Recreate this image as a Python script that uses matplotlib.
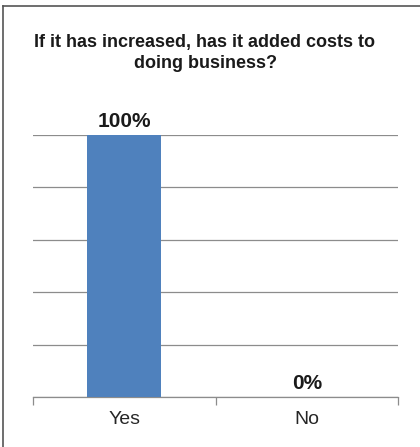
import matplotlib.pyplot as plt
from matplotlib.lines import Line2D

plt.rcParams['font.family'] = ['Liberation Sans', 'DejaVu Sans']

categories = ['Yes', 'No']
values = [100, 0]
labels = ['100%', '0%']

W, H = 420, 447
fig = plt.figure(figsize=(W / 100, H / 100), dpi=100)
ax = fig.add_axes([33 / W, 1 - 397 / H, 365 / W, 262 / H])

x = range(len(categories))
ax.bar(x, values, width=0.405, color='#4F81BD', zorder=3)
ax.set_xlim(-0.5, 1.5)
ax.set_ylim(0, 100)
ax.set_yticks([0, 20, 40, 60, 80, 100])
ax.yaxis.grid(True, color='#8c8c8c', linewidth=0.9)
ax.tick_params(axis='y', length=0, labelleft=False)
ax.set_xticks(list(x))
ax.set_xticklabels(categories, fontsize=14, color='#262626')
ax.set_xticks([-0.5, 0.5, 1.5], minor=True)
ax.tick_params(axis='x', which='major', length=0, pad=10)
ax.tick_params(axis='x', which='minor', length=6, color='#8c8c8c', width=0.9)
for s in ['top', 'right', 'left']:
    ax.spines[s].set_visible(False)
ax.spines['bottom'].set_color('#8c8c8c')
ax.spines['bottom'].set_linewidth(0.9)

for i, v in enumerate(values):
    ax.annotate(labels[i], (i, v), xytext=(0, 3), textcoords='offset points',
                ha='center', va='bottom', fontsize=15, fontweight='bold', color='#1a1a1a')

fig.text(205 / W, 1 - 43 / H, 'If it has increased, has it added costs to',
         ha='center', va='center', fontsize=13, fontweight='bold', color='#1a1a1a')
fig.text(205 / W, 1 - 64 / H, 'doing business?',
         ha='center', va='center', fontsize=13, fontweight='bold', color='#1a1a1a')

fig.add_artist(Line2D([3 / W, 1], [1 - 6 / H, 1 - 6 / H], color='#555555', linewidth=1.2))
fig.add_artist(Line2D([3 / W, 3 / W], [0, 1 - 6 / H], color='#555555', linewidth=1.2))

fig.savefig('out.png', dpi=100)
